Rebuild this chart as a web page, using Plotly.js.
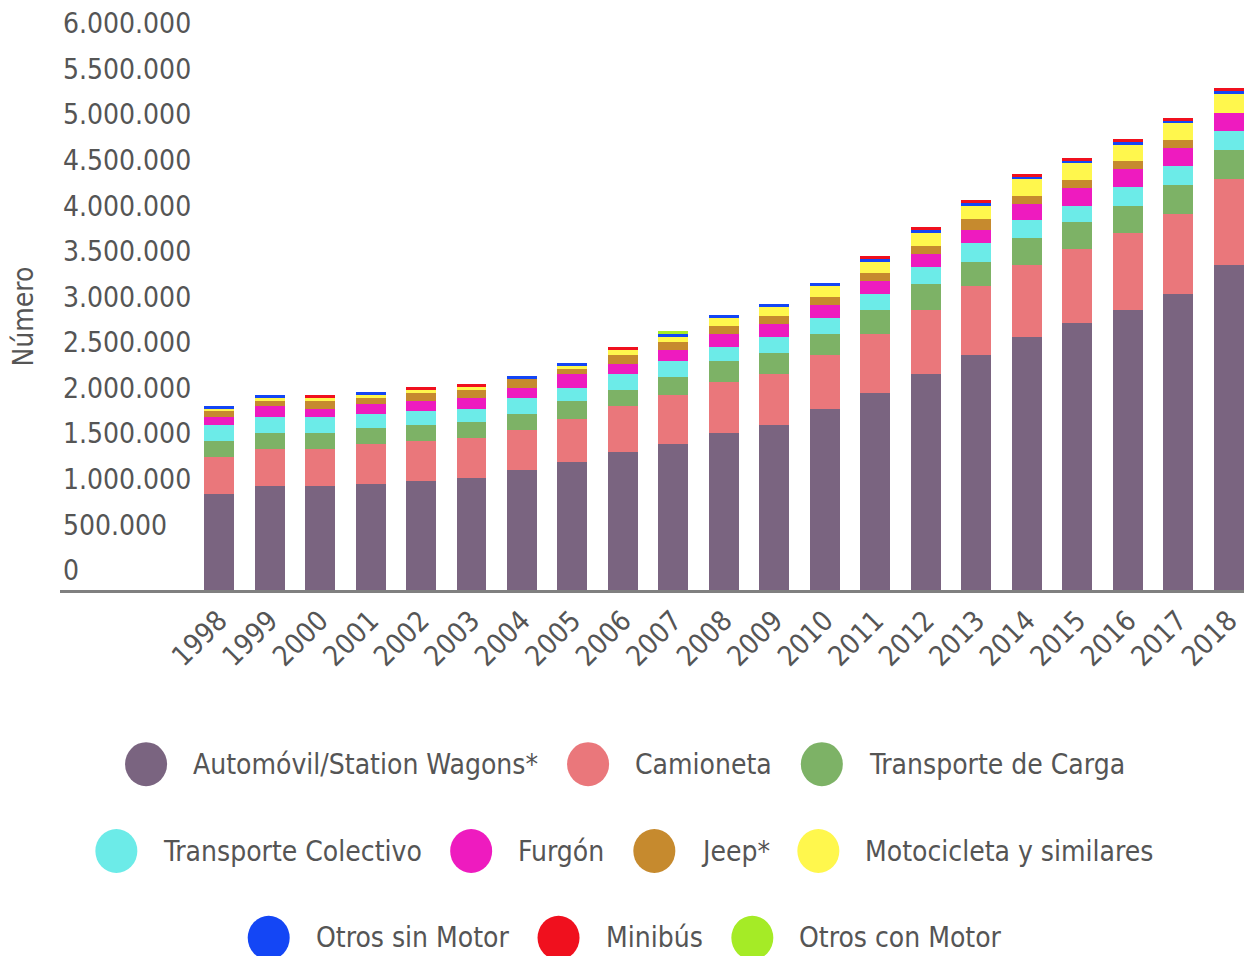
<!DOCTYPE html>
<html>
<head>
<meta charset="utf-8">
<script src="https://cdn.plot.ly/plotly-3.0.1.min.js"></script>
<style>
  html, body { margin: 0; padding: 0; background: #ffffff; }
  #chart { width: 1244px; height: 956px; }
</style>
</head>
<body>
<div id="chart"></div>
<script>
// ---- Data ----
const years = ['1998','1999','2000','2001','2002','2003','2004','2005','2006','2007','2008','2009','2010','2011','2012','2013','2014','2015','2016','2017','2018'];

const automovil   = [1057000,1144000,1144000,1166000,1199000,1232000,1319000,1407000,1517000,1604000,1725000,1812000,1987000,2163000,2371000,2579000,2776000,2929000,3071000,3247000,3564000];
const camioneta   = [405000,405000,405000,438000,438000,438000,438000,471000,504000,537000,558000,558000,591000,646000,701000,756000,788000,810000,843000,876000,942000];
const carga       = [175000,175000,175000,175000,175000,175000,175000,197000,175000,197000,230000,230000,230000,263000,285000,263000,296000,296000,296000,318000,318000];
const colectivo   = [175000,175000,175000,153000,153000,142000,175000,142000,175000,175000,153000,175000,175000,175000,186000,208000,197000,175000,208000,208000,208000];
const furgon      = [88000,120000,88000,110000,110000,120000,110000,153000,110000,120000,142000,142000,142000,142000,142000,142000,175000,197000,197000,197000,197000];
const jeep        = [66000,55000,88000,66000,88000,88000,99000,55000,99000,88000,88000,88000,88000,88000,88000,120000,88000,88000,88000,88000,0];
const motocicleta = [22000,33000,33000,33000,33000,33000,0,33000,55000,55000,88000,99000,120000,120000,142000,142000,186000,186000,175000,186000,208000];
const otrosSinMotor = [33000,33000,0,33000,0,0,33000,33000,0,33000,33000,33000,33000,33000,33000,33000,22000,22000,33000,22000,33000];
const minibus     = [0,0,33000,0,33000,33000,0,0,33000,0,0,0,0,33000,33000,33000,33000,33000,33000,33000,33000];
const otrosConMotor = [0,0,0,0,0,0,0,0,0,33000,0,0,0,0,0,0,0,0,0,0,0];

const seriesNames = ['Automóvil/Station Wagons*','Camioneta','Transporte de Carga','Transporte Colectivo','Furgón','Jeep*','Motocicleta y similares','Otros sin Motor','Minibús','Otros con Motor'];
const seriesValues = [automovil, camioneta, carga, colectivo, furgon, jeep, motocicleta, otrosSinMotor, minibus, otrosConMotor];
const seriesColors = ['#7a6480','#ea777b','#7db266','#6cebe8','#ee1bbf','#c68a2e','#fff74d','#1446f5','#f0101e','#a5eb26'];

const yTickValues = [0,500000,1000000,1500000,2000000,2500000,3000000,3500000,4000000,4500000,5000000,5500000,6000000];
const yTickLabels = ['0','500.000','1.000.000','1.500.000','2.000.000','2.500.000','3.000.000','3.500.000','4.000.000','4.500.000','5.000.000','5.500.000','6.000.000'];
const yTitle = 'Número';

// ---- Layout constants ----
const W = 1244, H = 956;
const M = { l: 60, r: 0, t: 42.5, b: 365.5 };
const FONT = 'DejaVu Sans Condensed, DejaVu Sans, sans-serif';
const TXT = '#555555';
const FS = 28;

const plotW = W - M.l - M.r;
const plotH = H - M.t - M.b;
const paperX = px => (px - M.l) / plotW;
const paperY = py => (H - M.b - py) / plotH;

const traces = seriesNames.map((name, i) => ({
  type: 'bar',
  name: name,
  x: years,
  y: seriesValues[i],
  marker: { color: seriesColors[i], line: { width: 0 } },
  showlegend: false,
  hoverinfo: 'x+y+name'
}));

// ---- Custom legend (big circles as in reference) ----
const legendRows = [[0,1,2],[3,4,5,6],[7,8,9]];
const rowY = [765, 852, 939];
const centerX = 624.5;
const circleW = 42, circleH = 44, circleToText = 26, itemGap = 29;

const ctx = document.createElement('canvas').getContext('2d');
ctx.font = FS + 'px "DejaVu Sans Condensed", "DejaVu Sans", sans-serif';

const shapes = [];
const annotations = [];
legendRows.forEach((row, r) => {
  const widths = row.map(i => ctx.measureText(seriesNames[i]).width);
  let total = 0;
  row.forEach((i, k) => { total += circleW + circleToText + widths[k]; if (k < row.length - 1) total += itemGap; });
  let x = centerX - total / 2;
  row.forEach((i, k) => {
    const cx = x + circleW / 2;
    shapes.push({
      type: 'circle', xref: 'paper', yref: 'paper',
      xsizemode: 'pixel', ysizemode: 'pixel',
      xanchor: paperX(cx), yanchor: paperY(rowY[r]),
      x0: -circleW / 2, x1: circleW / 2, y0: -circleH / 2, y1: circleH / 2,
      fillcolor: seriesColors[i], line: { width: 0 }
    });
    const tx = x + circleW + circleToText;
    annotations.push({
      xref: 'paper', yref: 'paper',
      x: paperX(tx), y: paperY(rowY[r]),
      xanchor: 'left', yanchor: 'middle',
      xshift: -2,
      text: seriesNames[i], showarrow: false,
      font: { family: FONT, size: FS, color: TXT }
    });
    x = tx + widths[k] + itemGap;
  });
});

const layout = {
  width: W, height: H,
  margin: M,
  paper_bgcolor: '#ffffff', plot_bgcolor: '#ffffff',
  barmode: 'stack',
  bargap: 0.406,
  separators: ',.',
  font: { family: FONT, size: FS, color: TXT },
  showlegend: false,
  xaxis: {
    type: 'category',
    range: [-3.15, 20.3],
    tickangle: -45,
    tickfont: { family: FONT, size: FS, color: TXT },
    showline: true, linecolor: '#808080', linewidth: 3,
    ticks: '', showgrid: false, zeroline: false,
    automargin: false, fixedrange: true
  },
  yaxis: {
    range: [0, 6000000],
    tickmode: 'array', tickvals: yTickValues, ticktext: yTickLabels,
    ticklabelposition: 'inside top',
    ticklabeloverflow: 'allow',
    tickfont: { family: FONT, size: FS, color: TXT },
    showline: false, showgrid: false, zeroline: false, ticks: '',
    title: { text: yTitle, font: { family: FONT, size: FS, color: TXT }, standoff: 21 },
    automargin: false, fixedrange: true
  },
  shapes: shapes,
  annotations: annotations
};

Plotly.newPlot('chart', traces, layout, { displayModeBar: false, staticPlot: true });
</script>
</body>
</html>
